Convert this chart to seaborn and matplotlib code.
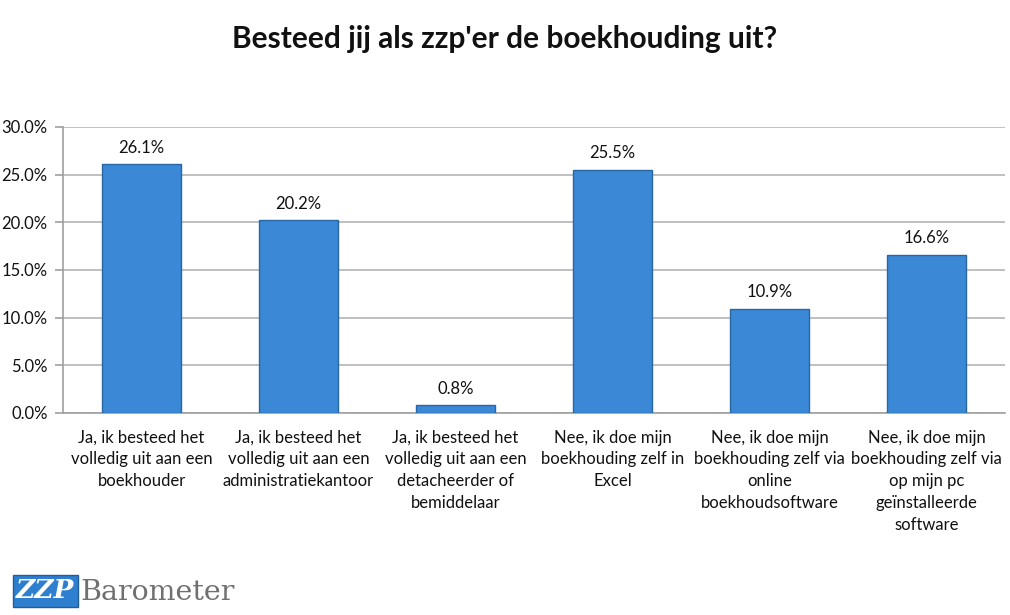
"""
Besteed jij als zzp'er de boekhouding uit?
"""
import matplotlib
matplotlib.use("Agg")
import matplotlib.pyplot as plt
import seaborn as sns
import pandas as pd
from matplotlib.ticker import PercentFormatter

categories = [
    "Ja, ik besteed het\nvolledig uit aan een\nboekhouder",
    "Ja, ik besteed het\nvolledig uit aan een\nadministratiekantoor",
    "Ja, ik besteed het\nvolledig uit aan een\ndetacheerder of\nbemiddelaar",
    "Nee, ik doe mijn\nboekhouding zelf in\nExcel",
    "Nee, ik doe mijn\nboekhouding zelf via\nonline\nboekhoudsoftware",
    "Nee, ik doe mijn\nboekhouding zelf via\nop mijn pc\ngeïnstalleerde\nsoftware",
]
values = [26.1, 20.2, 0.8, 25.5, 10.9, 16.6]
y_ticks = [0, 5, 10, 15, 20, 25, 30]

df = pd.DataFrame({"antwoord": categories, "pct": values})

sns.set_style("white")
plt.rcParams["font.family"] = ["Lato", "DejaVu Sans"]

fig = plt.figure(figsize=(10.1, 6.15), dpi=100)
ax = fig.add_axes([0.0624, 0.3285, 0.9326, 0.465])

sns.barplot(data=df, x="antwoord", y="pct", color="#3B88D6", width=0.5,
            edgecolor="#2A66A3", linewidth=1.0, saturation=1, ax=ax, zorder=3)

for i, v in enumerate(values):
    ax.text(i, v + 0.9, f"{v:.1f}%", ha="center", va="bottom", fontsize=12, color="#111111")

ax.set_ylim(0, 30)
ax.set_xlim(-0.5, len(categories) - 0.5)
ax.set_yticks(y_ticks)
ax.yaxis.set_major_formatter(PercentFormatter(decimals=1))
ax.yaxis.grid(True, color="#B5B5B5", linewidth=1.2, zorder=0)
ax.set_axisbelow(True)
ax.set_xlabel("")
ax.set_ylabel("")

for s in ["top", "right"]:
    ax.spines[s].set_visible(False)
ax.spines["left"].set_color("#A0A0A0")
ax.spines["bottom"].set_color("#A0A0A0")
ax.spines["left"].set_linewidth(1.2)
ax.spines["bottom"].set_linewidth(1.2)

# category separators as ticks below the axis
ax.set_xticks([i - 0.5 for i in range(len(categories) + 1)], minor=True)
ax.tick_params(axis="x", which="minor", length=6, color="#A0A0A0", width=1.2)
ax.tick_params(axis="x", which="major", length=0, labelsize=12, pad=12, colors="#111111")
ax.tick_params(axis="y", length=6, color="#A0A0A0", width=1.2, labelsize=12, pad=5, colors="#111111", left=True)
for lbl in ax.get_xticklabels():
    lbl.set_linespacing(1.45)
    lbl.set_va("top")

fig.suptitle("Besteed jij als zzp'er de boekhouding uit?", x=0.5, y=0.96,
             fontsize=21.5, fontweight="bold", color="#111111")

# logo
fig.text(0.016, 0.027, "ZZP", fontsize=19, fontweight="bold", fontstyle="italic",
         family="DejaVu Serif", color="white",
         bbox=dict(boxstyle="square,pad=0.12", facecolor="#2F7FD0", edgecolor="#1F5E9E"))
fig.text(0.08, 0.025, "Barometer", fontsize=20.5, family="DejaVu Serif", color="#707070")

fig.savefig("out.png", dpi=100)
